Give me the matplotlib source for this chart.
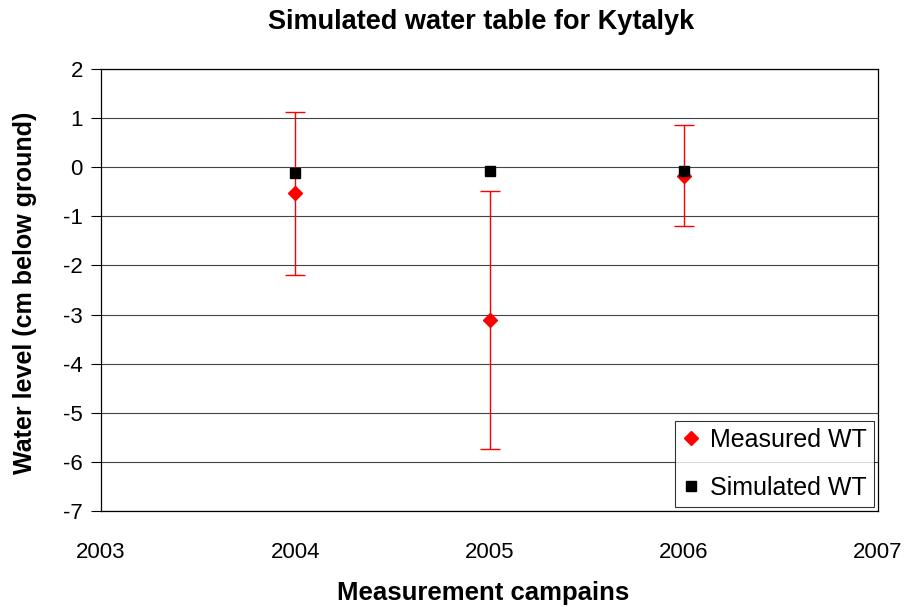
import matplotlib
matplotlib.use("Agg")
import matplotlib.pyplot as plt
from matplotlib.lines import Line2D

years = [2004, 2005, 2006]
measured = [-0.53, -3.11, -0.17]
measured_err = [1.66, 2.62, 1.03]
simulated = [-0.12, -0.08, -0.08]

x_ticks = [2003, 2004, 2005, 2006, 2007]
y_ticks = [2, 1, 0, -1, -2, -3, -4, -5, -6, -7]

plt.rcParams['font.family'] = ['Liberation Sans', 'DejaVu Sans']

fig = plt.figure(figsize=(9.06, 6.07), dpi=100)
ax = fig.add_axes([101/906, 1-511/607, (878-101)/906, (511-69)/607])

ax.errorbar(years, measured, yerr=measured_err, fmt='D', color='red',
            markersize=7.5, ecolor='red', elinewidth=1, capsize=7, capthick=1,
            zorder=3)
ax.plot(years, simulated, 's', color='black', markersize=7.5, zorder=4)

ax.set_xlim(2003, 2007)
ax.set_ylim(-7, 2)
ax.set_xticks(x_ticks)
ax.set_yticks(y_ticks)
ax.set_xticklabels([str(v) for v in x_ticks])
ax.set_yticklabels([str(v) for v in y_ticks])
ax.yaxis.grid(True, color='#444444', linewidth=0.8)
ax.set_axisbelow(True)
ax.tick_params(axis='y', labelsize=16, direction='out', length=7, width=0.8, pad=6)
ax.tick_params(axis='x', labelsize=16, length=0, pad=22)
for s in ax.spines.values():
    s.set_linewidth(0.9)

fig.text(481/906, 1-22/607, 'Simulated water table for Kytalyk', fontsize=19.5,
         fontweight='bold', ha='center', va='center')
fig.text(483/906, 1-593/607, 'Measurement campains', fontsize=18.5,
         fontweight='bold', ha='center', va='center')
fig.text(25/906, 1-293/607, 'Water level (cm below ground)', fontsize=18,
         fontweight='bold', ha='center', va='center', rotation=90)

handles = [Line2D([], [], marker='D', color='red', linestyle='none', markersize=7),
           Line2D([], [], marker='s', color='black', linestyle='none', markersize=7)]
leg = ax.legend(handles, ['Measured WT', 'Simulated WT'], loc='lower right',
                fontsize=18, frameon=True, fancybox=False,
                edgecolor='black', handlelength=0.7, handletextpad=0.4,
                borderpad=0.3, labelspacing=0.95, borderaxespad=0.15)
leg.get_frame().set_linewidth(0.8)

fig.savefig('out.png', dpi=100)
